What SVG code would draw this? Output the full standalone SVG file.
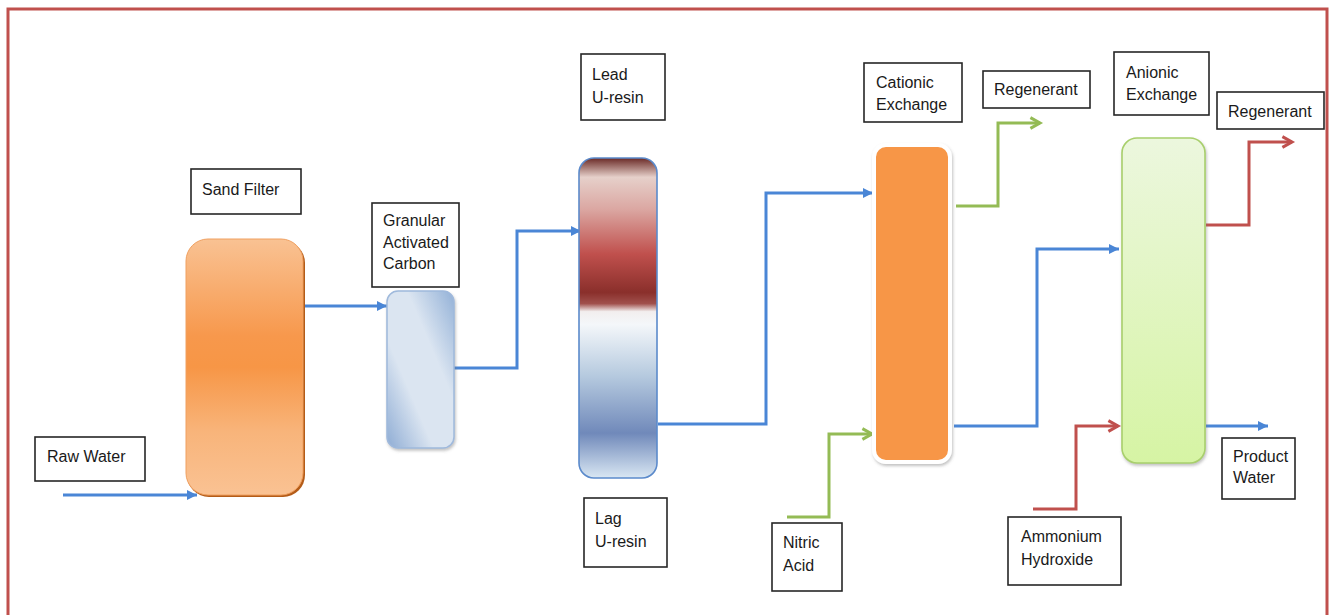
<svg xmlns="http://www.w3.org/2000/svg" width="1335" height="615" viewBox="0 0 1335 615">
<style>
.lbl{fill:#fff;stroke:#262626;stroke-width:1.6}
.t{font-family:"Liberation Sans",Arial,sans-serif;font-size:16px;fill:#1a1a1a}
.blue{fill:none;stroke:#4a86d6;stroke-width:3;marker-end:url(#ab)}
.green{fill:none;stroke:#94bb55;stroke-width:3;marker-end:url(#ag)}
.red{fill:none;stroke:#c0504d;stroke-width:3;marker-end:url(#ar)}
</style>
<defs>
<marker id="ab" viewBox="0 0 10 10" refX="10" refY="5" markerUnits="userSpaceOnUse" markerWidth="11" markerHeight="10" orient="auto"><path d="M0,0 L10,5 L0,10 z" fill="#4a86d6"/></marker>
<marker id="ag" viewBox="0 0 10 10" refX="9" refY="5" markerUnits="userSpaceOnUse" markerWidth="12" markerHeight="12" orient="auto" overflow="visible"><path d="M1,0.5 L9,5 L1,9.5" fill="none" stroke="#94bb55" stroke-width="2.5"/></marker>
<marker id="ar" viewBox="0 0 10 10" refX="9" refY="5" markerUnits="userSpaceOnUse" markerWidth="12" markerHeight="12" orient="auto" overflow="visible"><path d="M1,0.5 L9,5 L1,9.5" fill="none" stroke="#c0504d" stroke-width="2.5"/></marker>
<linearGradient id="gSand" x1="0" y1="0" x2="0" y2="1">
<stop offset="0" stop-color="#f9c293"/>
<stop offset="0.38" stop-color="#f7984c"/>
<stop offset="0.5" stop-color="#f79646"/>
<stop offset="0.75" stop-color="#f8b47a"/>
<stop offset="1" stop-color="#fac293"/>
</linearGradient>
<linearGradient id="gGac" x1="0" y1="1" x2="1" y2="0">
<stop offset="0" stop-color="#8eacd4"/>
<stop offset="0.35" stop-color="#dbe5f1"/>
<stop offset="0.65" stop-color="#dbe5f1"/>
<stop offset="1" stop-color="#93b1d7"/>
</linearGradient>
<linearGradient id="gRes" x1="0" y1="0" x2="0" y2="1">
<stop offset="0" stop-color="#6a2a26"/>
<stop offset="0.06" stop-color="#e6d0ca"/>
<stop offset="0.16" stop-color="#dba7a2"/>
<stop offset="0.3" stop-color="#c0504d"/>
<stop offset="0.42" stop-color="#8a2f2b"/>
<stop offset="0.455" stop-color="#a0504c"/>
<stop offset="0.48" stop-color="#f2eeee"/>
<stop offset="0.52" stop-color="#f4f7fa"/>
<stop offset="0.68" stop-color="#b6cadf"/>
<stop offset="0.86" stop-color="#7089ba"/>
<stop offset="1" stop-color="#d9e7f3"/>
</linearGradient>
<linearGradient id="gAn" x1="0" y1="0" x2="0" y2="1">
<stop offset="0" stop-color="#ecf7de"/>
<stop offset="1" stop-color="#d6f4a4"/>
</linearGradient>
<filter id="sh" x="-20%" y="-10%" width="140%" height="120%">
<feDropShadow dx="1" dy="2" stdDeviation="1.5" flood-color="#777" flood-opacity="0.45"/>
</filter>
</defs>

<g id="frame" fill="none" stroke="#c0504d" stroke-width="3">
<path d="M8,615 L8,9 L1327,9 L1327,615"/>
</g>

<g id="connectors">
<path class="blue" d="M63,495 L197,495"/>
<path class="blue" d="M304,306 L387,306"/>
<path class="blue" d="M454,368 L517,368 L517,231 L581,231"/>
<path class="blue" d="M658,424 L766,424 L766,193 L873,193"/>
<path class="green" d="M787,517 L829,517 L829,434 L872,434"/>
<path class="green" d="M956,206 L998,206 L998,123 L1040,123"/>
<path class="blue" d="M954,426 L1037,426 L1037,249 L1119,249"/>
<path class="red" d="M1033,509 L1076,509 L1076,426 L1118,426"/>
<path class="red" d="M1206,225 L1249,225 L1249,142 L1292,142"/>
<path class="blue" d="M1206,426 L1268,426"/>
</g>

<g id="raw-water">
<rect class="lbl" x="35" y="437" width="110" height="44"/>
<text class="t" x="47" y="462">Raw Water</text>
</g>

<g id="sand-filter">
<rect class="lbl" x="191" y="169" width="110" height="45"/>
<text class="t" x="202" y="195">Sand Filter</text>
<rect x="187" y="241" width="118" height="256" rx="22" fill="#b45c18"/>
<rect x="186" y="239" width="117" height="256" rx="22" fill="url(#gSand)" stroke="#f0a060" stroke-width="1"/>
</g>

<g id="gac">
<rect class="lbl" x="372" y="203" width="87" height="84"/>
<text class="t" x="383" y="226">Granular</text>
<text class="t" x="383" y="248">Activated</text>
<text class="t" x="383" y="269">Carbon</text>
<rect x="387" y="291" width="67" height="157" rx="11" fill="url(#gGac)" stroke="#9fb9dc" stroke-width="1.5" filter="url(#sh)"/>
</g>

<g id="lead-lag-resin">
<rect class="lbl" x="581" y="54" width="84" height="66"/>
<text class="t" x="592" y="80">Lead</text>
<text class="t" x="592" y="103">U-resin</text>
<rect x="579" y="158" width="78" height="320" rx="15" fill="url(#gRes)" stroke="#5b8acb" stroke-width="1.6"/>
<rect class="lbl" x="584" y="498" width="83" height="69"/>
<text class="t" x="595" y="524">Lag</text>
<text class="t" x="595" y="547">U-resin</text>
</g>

<g id="nitric-acid">
<rect class="lbl" x="772" y="523" width="70" height="68"/>
<text class="t" x="783" y="548">Nitric</text>
<text class="t" x="783" y="571">Acid</text>
</g>

<g id="cationic">
<rect class="lbl" x="864" y="63" width="98" height="59"/>
<text class="t" x="876" y="88">Cationic</text>
<text class="t" x="876" y="110">Exchange</text>
<rect x="874" y="145" width="76" height="317" rx="12" fill="#f79646" stroke="#ffffff" stroke-width="4" filter="url(#sh)"/>
</g>

<g id="regenerant-1">
<rect class="lbl" x="983" y="71" width="107" height="37"/>
<text class="t" x="994" y="95">Regenerant</text>
</g>

<g id="anionic">
<rect class="lbl" x="1114" y="52" width="95" height="63"/>
<text class="t" x="1126" y="78">Anionic</text>
<text class="t" x="1126" y="100">Exchange</text>
<rect x="1122" y="138" width="83" height="325" rx="15" fill="url(#gAn)" stroke="#a8cf6c" stroke-width="1.6" filter="url(#sh)"/>
</g>

<g id="regenerant-2">
<rect class="lbl" x="1217" y="92" width="107" height="37"/>
<text class="t" x="1228" y="117">Regenerant</text>
</g>

<g id="ammonium-hydroxide">
<rect class="lbl" x="1008" y="517" width="113" height="68"/>
<text class="t" x="1021" y="542">Ammonium</text>
<text class="t" x="1021" y="565">Hydroxide</text>
</g>

<g id="product-water">
<rect class="lbl" x="1222" y="438" width="73" height="61"/>
<text class="t" x="1233" y="462">Product</text>
<text class="t" x="1233" y="483">Water</text>
</g>
</svg>
